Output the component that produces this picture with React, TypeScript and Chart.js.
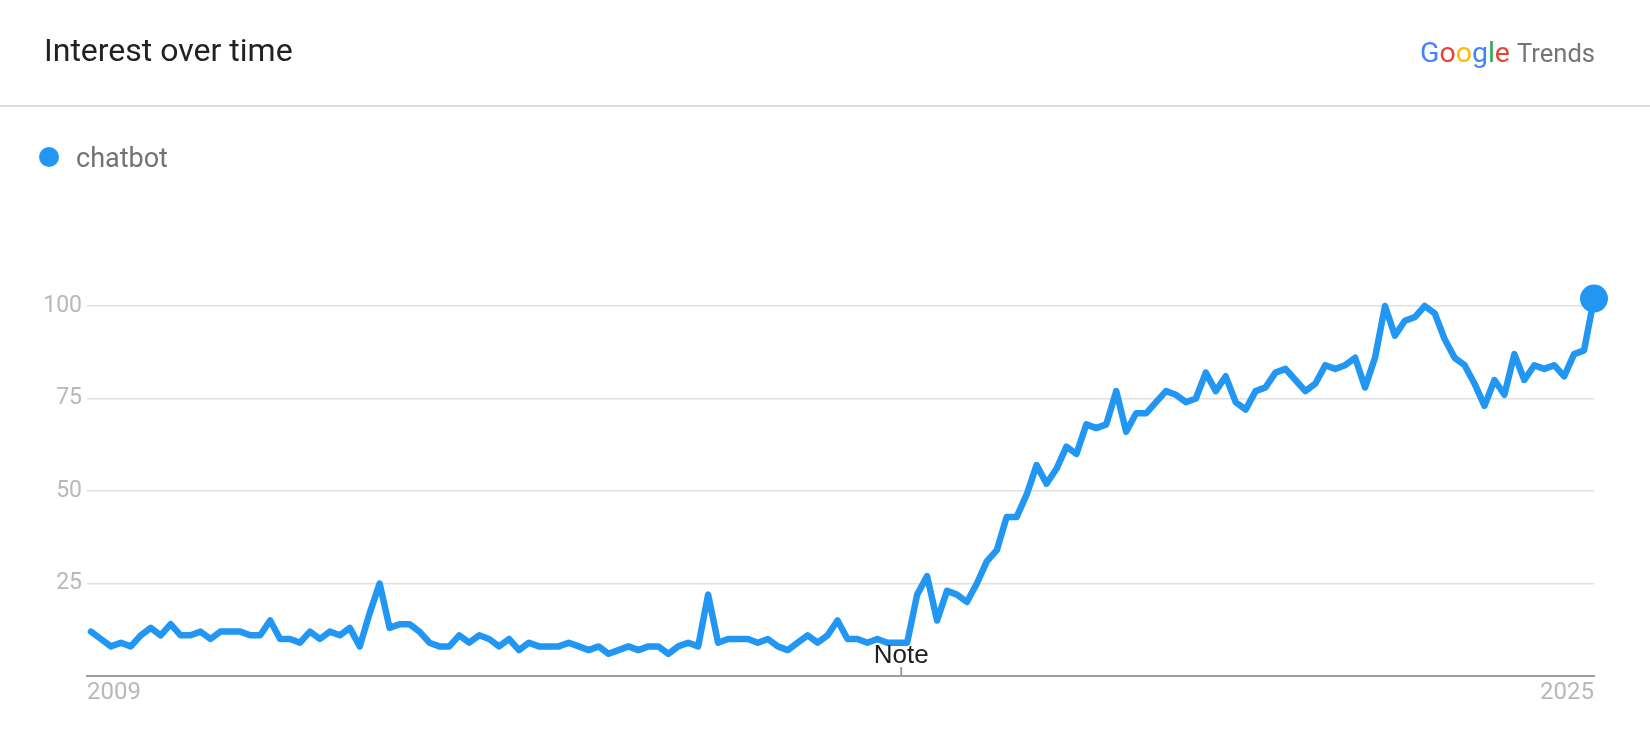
import React, { useEffect, useRef } from "react";
import { Chart, registerables } from "chart.js";

Chart.register(...registerables);

// ---- data ----
const seriesName = "chatbot";
const chartTitle = "Interest over time";
const interest = [
  12, 10, 8, 9, 8, 11, 13, 11, 14, 11,
  11, 12, 10, 12, 12, 12, 11, 11, 15, 10,
  10, 9, 12, 10, 12, 11, 13, 8, 17, 25,
  13, 14, 14, 12, 9, 8, 8, 11, 9, 11,
  10, 8, 10, 7, 9, 8, 8, 8, 9, 8,
  7, 8, 6, 7, 8, 7, 8, 8, 6, 8,
  9, 8, 22, 9, 10, 10, 10, 9, 10, 8,
  7, 9, 11, 9, 11, 15, 10, 10, 9, 10,
  9, 9, 9, 22, 27, 15, 23, 22, 20, 25,
  31, 34, 43, 43, 49, 57, 52, 56, 62, 60,
  68, 67, 68, 77, 66, 71, 71, 74, 77, 76,
  74, 75, 82, 77, 81, 74, 72, 77, 78, 82,
  83, 80, 77, 79, 84, 83, 84, 86, 78, 86,
  100, 92, 96, 97, 100, 98, 91, 86, 84, 79,
  73, 80, 76, 87, 80, 84, 83, 84, 81, 87,
  88, 102,
];
const xTickLabels = ["2009", "2025"];
const yTickValues = [0, 25, 50, 75, 100];
const noteLabels = ["Note"];
const notePositions = [81.4];
const brandLetters = ["G", "o", "o", "g", "l", "e"];
const brandColors = ["#4285F4", "#EA4335", "#FBBC05", "#4285F4", "#34A853", "#EA4335"];
const productName = "Trends";

const LINE_COLOR = "#2196F3";

const headerPlugin = {
  id: "trendsHeader",
  afterDraw(chart: any) {
    const ctx = chart.ctx as CanvasRenderingContext2D;
    ctx.save();
    ctx.textBaseline = "alphabetic";
    ctx.textAlign = "left";

    // title
    ctx.font = '32px Roboto';
    ctx.fillStyle = "#202124";
    ctx.fillText(chartTitle, 44, 61);

    // logo "Google Trends"
    ctx.font = "100px Roboto";
    const gW = ctx.measureText(brandLetters.join("")).width;
    const gSize = (100 * 90) / gW;
    ctx.font = `${gSize}px Roboto`;
    let gx = 1420;
    brandLetters.forEach((ch, k) => {
      ctx.fillStyle = brandColors[k];
      ctx.fillText(ch, gx, 62);
      gx += ctx.measureText(ch).width;
    });
    ctx.font = "100px Roboto";
    const tW = ctx.measureText(productName).width;
    const tSize = (100 * 78) / tW;
    ctx.font = `${tSize}px Roboto`;
    ctx.fillStyle = "#757575";
    ctx.fillText(productName, 1517, 62);

    // separator
    ctx.fillStyle = "#dadce0";
    ctx.fillRect(0, 105, chart.width, 2);

    // legend
    ctx.beginPath();
    ctx.arc(49, 157, 10, 0, Math.PI * 2);
    ctx.fillStyle = LINE_COLOR;
    ctx.fill();
    ctx.font = "27px Roboto";
    ctx.fillStyle = "#737373";
    ctx.fillText(seriesName, 76, 167);

    // notes
    const xs = chart.scales.x;
    const bottom = chart.chartArea.bottom;
    noteLabels.forEach((label, k) => {
      const px = xs.getPixelForValue(notePositions[k]);
      ctx.fillStyle = "#9e9e9e";
      ctx.fillRect(px - 1, bottom - 9, 2, 9);
      ctx.font = '26px "Liberation Sans", Arial';
      ctx.fillStyle = "#202124";
      ctx.textAlign = "center";
      ctx.fillText(label, px, bottom - 13);
    });
    ctx.restore();
  },
};

export default function App() {
  const ref = useRef<HTMLCanvasElement | null>(null);

  useEffect(() => {
    if (!ref.current) return;
    const lastIndex = interest.length - 1;
    const chart = new Chart(ref.current, {
      type: "line",
      data: {
        datasets: [
          {
            label: seriesName,
            data: interest.map((v, i) => ({ x: i, y: v })),
            borderColor: LINE_COLOR,
            backgroundColor: LINE_COLOR,
            borderWidth: 6.5,
            borderJoinStyle: "round",
            borderCapStyle: "round",
            tension: 0,
            clip: false as any,
            pointRadius: (c: any) => (c.dataIndex === lastIndex ? 14 : 0),
            pointHoverRadius: (c: any) => (c.dataIndex === lastIndex ? 14 : 0),
            pointBorderWidth: 0,
            pointBackgroundColor: LINE_COLOR,
          },
        ],
      },
      options: {
        animation: false,
        responsive: false,
        devicePixelRatio: 1,
        layout: { padding: { top: 306, left: 0, right: 56, bottom: 0 } },
        plugins: {
          legend: { display: false },
          tooltip: { enabled: false },
          title: { display: false },
        },
        font: { family: "Roboto" },
        scales: {
          x: {
            type: "linear",
            min: -0.4,
            max: lastIndex,
            afterFit: (s: any) => {
              s.height = 69;
            },
            afterBuildTicks: (s: any) => {
              s.ticks = [{ value: s.min }, { value: s.max }];
            },
            ticks: {
              align: "inner",
              padding: 3,
              maxRotation: 0,
              autoSkip: false,
              font: { family: "Roboto", size: 24 },
              color: "#b8b8b8",
              callback: (_v: any, idx: number) => xTickLabels[idx],
            },
            grid: { display: false, drawTicks: false },
            border: { display: true, color: "#9e9e9e", width: 2 },
          },
          y: {
            min: 0,
            max: 100,
            afterFit: (s: any) => {
              s.width = 87;
            },
            afterBuildTicks: (s: any) => {
              s.ticks = yTickValues.map((v) => ({ value: v }));
            },
            ticks: {
              padding: 5,
              font: { family: "Roboto", size: 23 },
              color: "#b8b8b8",
              callback: (v: any) => (v === 0 ? "" : String(v)),
            },
            grid: {
              drawTicks: false,
              lineWidth: 1.5,
              color: (c: any) => (c.tick && c.tick.value === 0 ? "rgba(0,0,0,0)" : "#e0e0e0"),
            },
            border: { display: false },
          },
        },
      },
      plugins: [headerPlugin],
    } as any);
    return () => chart.destroy();
  }, []);

  return (
    <div
      style={{
        position: "fixed",
        left: 0,
        top: 0,
        width: 1650,
        height: 745,
        background: "#ffffff",
      }}
    >
      <canvas ref={ref} width={1650} height={745} style={{ display: "block" }} />
    </div>
  );
}
